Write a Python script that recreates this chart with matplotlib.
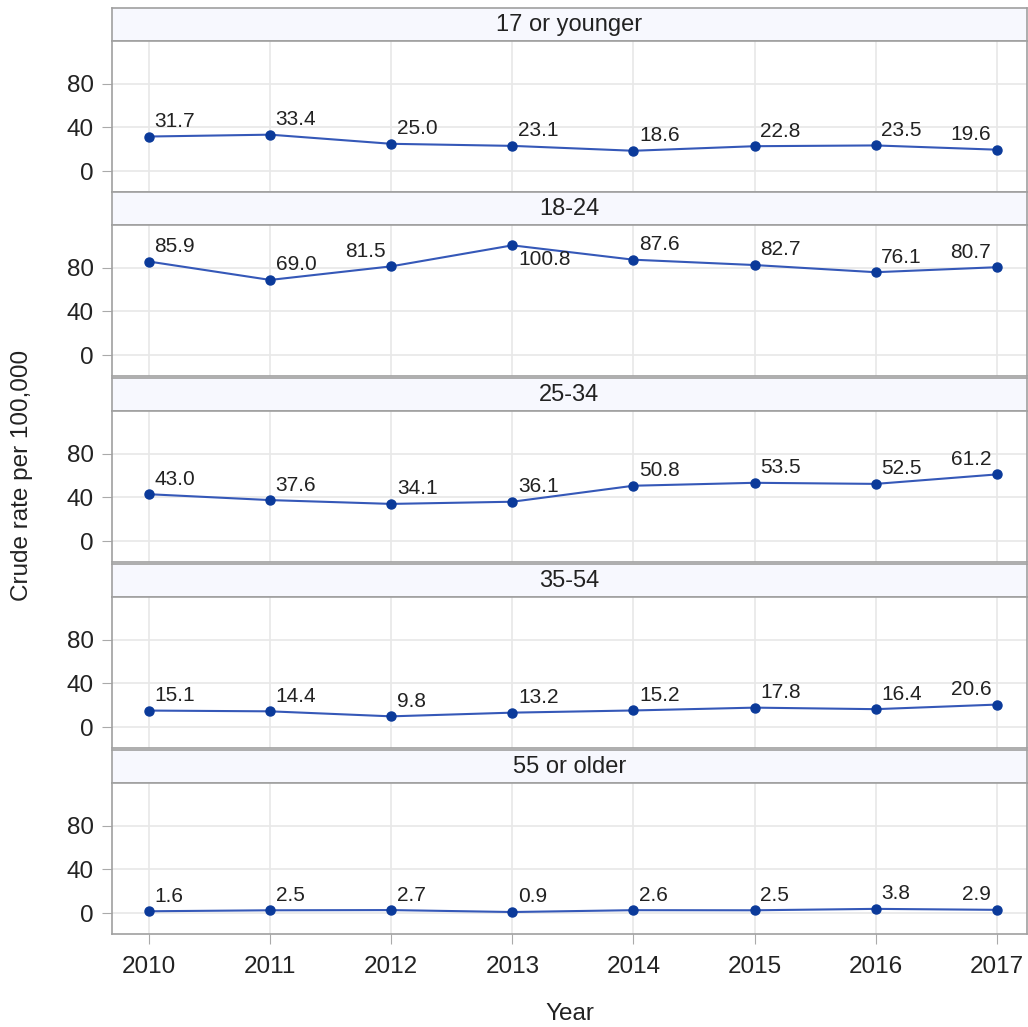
import matplotlib.pyplot as plt
import numpy as np

plt.rcParams['font.family'] = ['Liberation Sans', 'DejaVu Sans']

years = [2010, 2011, 2012, 2013, 2014, 2015, 2016, 2017]
groups = ['17 or younger', '18-24', '25-34', '35-54', '55 or older']
rate_17 = [31.7, 33.4, 25.0, 23.1, 18.6, 22.8, 23.5, 19.6]
rate_18_24 = [85.9, 69.0, 81.5, 100.8, 87.6, 82.7, 76.1, 80.7]
rate_25_34 = [43.0, 37.6, 34.1, 36.1, 50.8, 53.5, 52.5, 61.2]
rate_35_54 = [15.1, 14.4, 9.8, 13.2, 15.2, 17.8, 16.4, 20.6]
rate_55 = [1.6, 2.5, 2.7, 0.9, 2.6, 2.5, 3.8, 2.9]
series = [rate_17, rate_18_24, rate_25_34, rate_35_54, rate_55]

# label placement: 'ur' upper right, 'ul' upper left, 'lr' lower right
place = [['ur'] * 7 + ['ul'],
         ['ur', 'ur', 'ul', 'lr', 'ur', 'ur', 'ur', 'ul'],
         ['ur'] * 7 + ['ul'],
         ['ur'] * 7 + ['ul'],
         ['ur'] * 7 + ['ul']]

W, H = 1028, 1027
fig = plt.figure(figsize=(W / 100, H / 100), dpi=100)

left, right = 112, 1027
tops = [8, 192, 378, 564, 750]
head_h = 33
plot_h = 151
line_c = '#3558B8'
mark_c = '#0B3A9A'
edge_c = '#A0A0A0'
txt_c = '#222222'

for i, (g, vals) in enumerate(zip(groups, series)):
    t = tops[i]
    hax = fig.add_axes([left / W, 1 - (t + head_h) / H, (right - left) / W, head_h / H])
    hax.set_facecolor('#F7F8FE')
    hax.set_xticks([])
    hax.set_yticks([])
    for s in hax.spines.values():
        s.set_color(edge_c)
        s.set_linewidth(1.2)
    hax.text(0.5, 0.48, g, ha='center', va='center', fontsize=17, color=txt_c,
             transform=hax.transAxes)

    pt = t + head_h
    ax = fig.add_axes([left / W, 1 - (pt + plot_h) / H, (right - left) / W, plot_h / H])
    ax.plot(years, vals, color=line_c, lw=1.5, zorder=3)
    ax.plot(years, vals, 'o', color=mark_c, ms=6.5, zorder=4)
    for x, y, p in zip(years, vals, place[i]):
        if p == 'ur':
            off, ha, va = (4, 4), 'left', 'bottom'
        elif p == 'ul':
            off, ha, va = (-4, 4), 'right', 'bottom'
        else:
            off, ha, va = (4, -3), 'left', 'top'
        ax.annotate(f'{y:.1f}', (x, y), xytext=off, textcoords='offset points',
                    ha=ha, va=va, fontsize=15, color=txt_c, zorder=5)
    ax.set_xlim(2009.694, 2017.25)
    ax.set_ylim(-19.3, 119.5)
    ax.set_yticks([0, 40, 80])
    ax.set_xticks(years)
    ax.grid(True, color='#E8E8E8', lw=1.2)
    ax.set_axisbelow(True)
    for s in ax.spines.values():
        s.set_color(edge_c)
        s.set_linewidth(1.2)
    ax.tick_params(axis='y', length=7, color='#AAAAAA', labelsize=17.5, labelcolor=txt_c, pad=6)
    if i < 4:
        ax.tick_params(axis='x', length=0, labelbottom=False)
    else:
        ax.tick_params(axis='x', length=7, color='#AAAAAA', labelsize=17.5, labelcolor=txt_c, pad=9)
        ax.set_xticklabels([str(y) for y in years])
        ax.set_xlabel('Year', fontsize=17.5, color=txt_c, labelpad=18)

fig.text(22 / W, 1 - 475 / H, 'Crude rate per 100,000', rotation=90, ha='center', va='center',
         fontsize=17.5, color=txt_c)

fig.savefig('out.png', dpi=100)
